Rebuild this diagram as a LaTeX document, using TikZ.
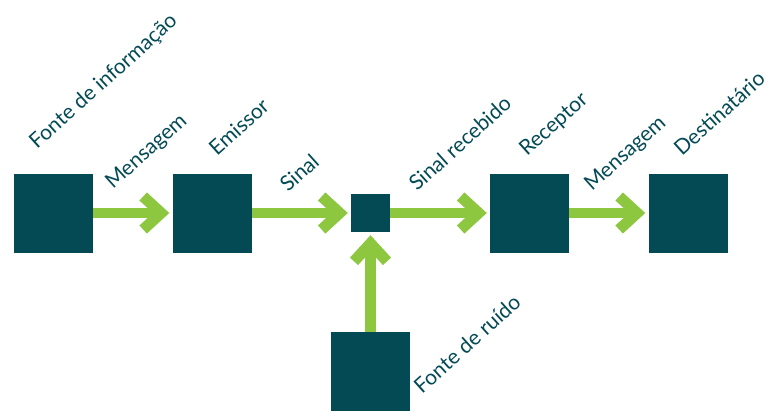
\documentclass[tikz,border=0pt]{standalone}
\usepackage{fontspec}
\setmainfont{Lato}
\usetikzlibrary{arrows.meta}
\definecolor{teal}{HTML}{034A55}
\definecolor{lgreen}{HTML}{8DC63F}
\begin{document}
\begin{tikzpicture}[x=1pt,y=-1pt,
  box/.style={fill=teal,draw=none,inner sep=0pt,minimum width=79pt,minimum height=79pt},
  smallbox/.style={fill=teal,draw=none,inner sep=0pt,minimum width=39pt,minimum height=38pt},
  flow/.style={draw=lgreen,line width=10.5pt,shorten >=3pt,-{Straight Barb[length=18pt,width=33pt,line width=11pt]}},
  lbl/.style={text=teal,anchor=base west,rotate=42,inner sep=0pt,font=\fontsize{21}{24}\selectfont}]
\useasboundingbox (0,0) rectangle (771,410);
\node[box] (src) at (53,213) {};
\node[box] (em) at (212,213) {};
\node[smallbox] (ch) at (370.5,213) {};
\node[box] (rc) at (529.5,213) {};
\node[box] (dst) at (688,213) {};
\node[box] (noise) at (370.5,371.5) {};
\draw[flow] (src.east) -- (em.west);
\draw[flow] (em.east) -- (ch.west);
\draw[flow] (ch.east) -- (rc.west);
\draw[flow] (rc.east) -- (dst.west);
\draw[flow] (noise.north) -- (ch.south);
\node[lbl] (t1) at (37,150) {Fonte de informação};
\node[lbl] (t2) at (113,190) {Mensagem};
\node[lbl] (t3) at (217,157) {Emissor};
\node[lbl] (t4) at (288,193) {Sinal};
\node[lbl] (t5) at (417,192) {Sinal recebido};
\node[lbl] (t6) at (527,157) {Receptor};
\node[lbl] (t7) at (592,192) {Mensagem};
\node[lbl] (t8) at (682,157) {Destinatário};
\node[lbl] (t9) at (422,395) {Fonte de ruído};
\end{tikzpicture}
\end{document}
